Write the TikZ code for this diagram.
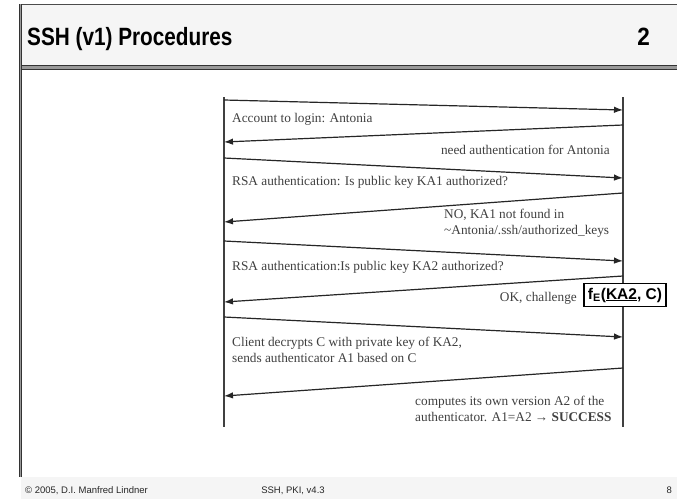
\documentclass[tikz,border=0pt]{standalone}
\usepackage{fontspec}
\setmainfont{Liberation Serif}
\newfontfamily\arial{Liberation Sans}
\usetikzlibrary{arrows.meta}
\begin{document}
\begin{tikzpicture}[x=1pt,y=-1pt,
  msg/.style={line width=1.2pt,black!85,-{Latex[length=9pt,width=6.5pt]}},
  life/.style={line width=1.3pt,black!75},
  lbl/.style={font=\fontsize{13.3}{16}\selectfont,text=black!75,inner sep=0pt,align=left},
  foot/.style={font=\arial\fontsize{9.5}{9.5}\selectfont,inner sep=0pt,text=black!85},
  ttl/.style={font=\arial\bfseries\fontsize{25}{25}\selectfont,inner sep=0pt},
]
\useasboundingbox (0,0) rectangle (677,499);
\fill[white] (0,0) rectangle (677,499);
% title bar
\fill[black!4] (20,4) rectangle (677,65);
\draw[black!70,line width=1.5pt] (20,4.5) -- (677,4.5);
\fill[black!40] (20,65) rectangle (677,70);
\draw[black!80,line width=1pt] (20,65.5) -- (677,65.5);
\draw[black!80,line width=1pt] (20,69.5) -- (677,69.5);
% footer band
\fill[black!4] (21,477) rectangle (677,499);
% left rule
\draw[black!80,line width=3pt] (20,4) -- (20,477);
\draw[black!40,line width=1pt] (20,4) -- (20,477);
% title
\node[ttl,anchor=base west] (title) at (27,45) {\scalebox{0.83}[1]{SSH (v1) Procedures}};
\node[ttl,anchor=base east] (num) at (650,45) {\scalebox{0.9}[1]{2}};
% footer
\node[foot,anchor=base west] (f1) at (25,493) {\textcopyright{} 2005, D.I. Manfred Lindner};
\node[foot,anchor=base] (f2) at (293,493) {SSH, PKI, v4.3};
\node[foot,anchor=base east] (f3) at (672,493) {8};
% lifelines
\coordinate (cT) at (224,97); \coordinate (cB) at (224,427);
\coordinate (sT) at (623,97); \coordinate (sB) at (623,427);
\draw[life] (cT) -- (cB);
\draw[life] (sT) -- (sB);
% messages
\coordinate (m1a) at (224,100); \coordinate (m1b) at (623,110);
\coordinate (m2a) at (623,125); \coordinate (m2b) at (224,142);
\coordinate (m3a) at (224,158); \coordinate (m3b) at (623,178);
\coordinate (m4a) at (623,193); \coordinate (m4b) at (224,222);
\coordinate (m5a) at (224,241); \coordinate (m5b) at (623,261);
\coordinate (m6a) at (623,276); \coordinate (m6b) at (224,302);
\coordinate (m7a) at (224,317); \coordinate (m7b) at (623,337);
\coordinate (m8a) at (623,368); \coordinate (m8b) at (224,396);
\draw[msg] (m1a) -- (m1b);
\draw[msg] (m2a) -- (m2b);
\draw[msg] (m3a) -- (m3b);
\draw[msg] (m4a) -- (m4b);
\draw[msg] (m5a) -- (m5b);
\draw[msg] (m6a) -- (m6b);
\draw[msg] (m7a) -- (m7b);
\draw[msg] (m8a) -- (m8b);
% labels (base anchor = baseline of last line)
\node[lbl,anchor=base west] (t1) at (232,122) {Account to login: Antonia};
\node[lbl,anchor=base east] (t2) at (610,154) {need authentication for Antonia};
\node[lbl,anchor=base west] (t3) at (232,185) {RSA authentication: Is public key KA1 authorized?};
\node[lbl,anchor=base west] (t4) at (444,234) {NO, KA1 not found in\\\textasciitilde Antonia/.ssh/authorized\_keys};
\node[lbl,anchor=base west] (t5) at (232,270) {RSA authentication:Is public key KA2 authorized?};
\node[lbl,anchor=base east] (t6) at (577,301) {OK, challenge};
\node[lbl,anchor=base west] (t7) at (232,362) {Client decrypts C with private key of KA2,\\sends authenticator A1 based on C};
\node[lbl,anchor=base west] (t8) at (415,421) {computes its own version A2 of the\\authenticator. A1=A2 \textrightarrow{} \textbf{SUCCESS}};
% challenge box
\node[draw,line width=1.3pt,fill=white,font=\arial\bfseries\fontsize{15.5}{15.5}\selectfont,
  inner xsep=4pt,inner ysep=4pt] (fe) at (625,295) {f\textsubscript{E}(\underline{KA2}, C)};
\end{tikzpicture}
\end{document}
